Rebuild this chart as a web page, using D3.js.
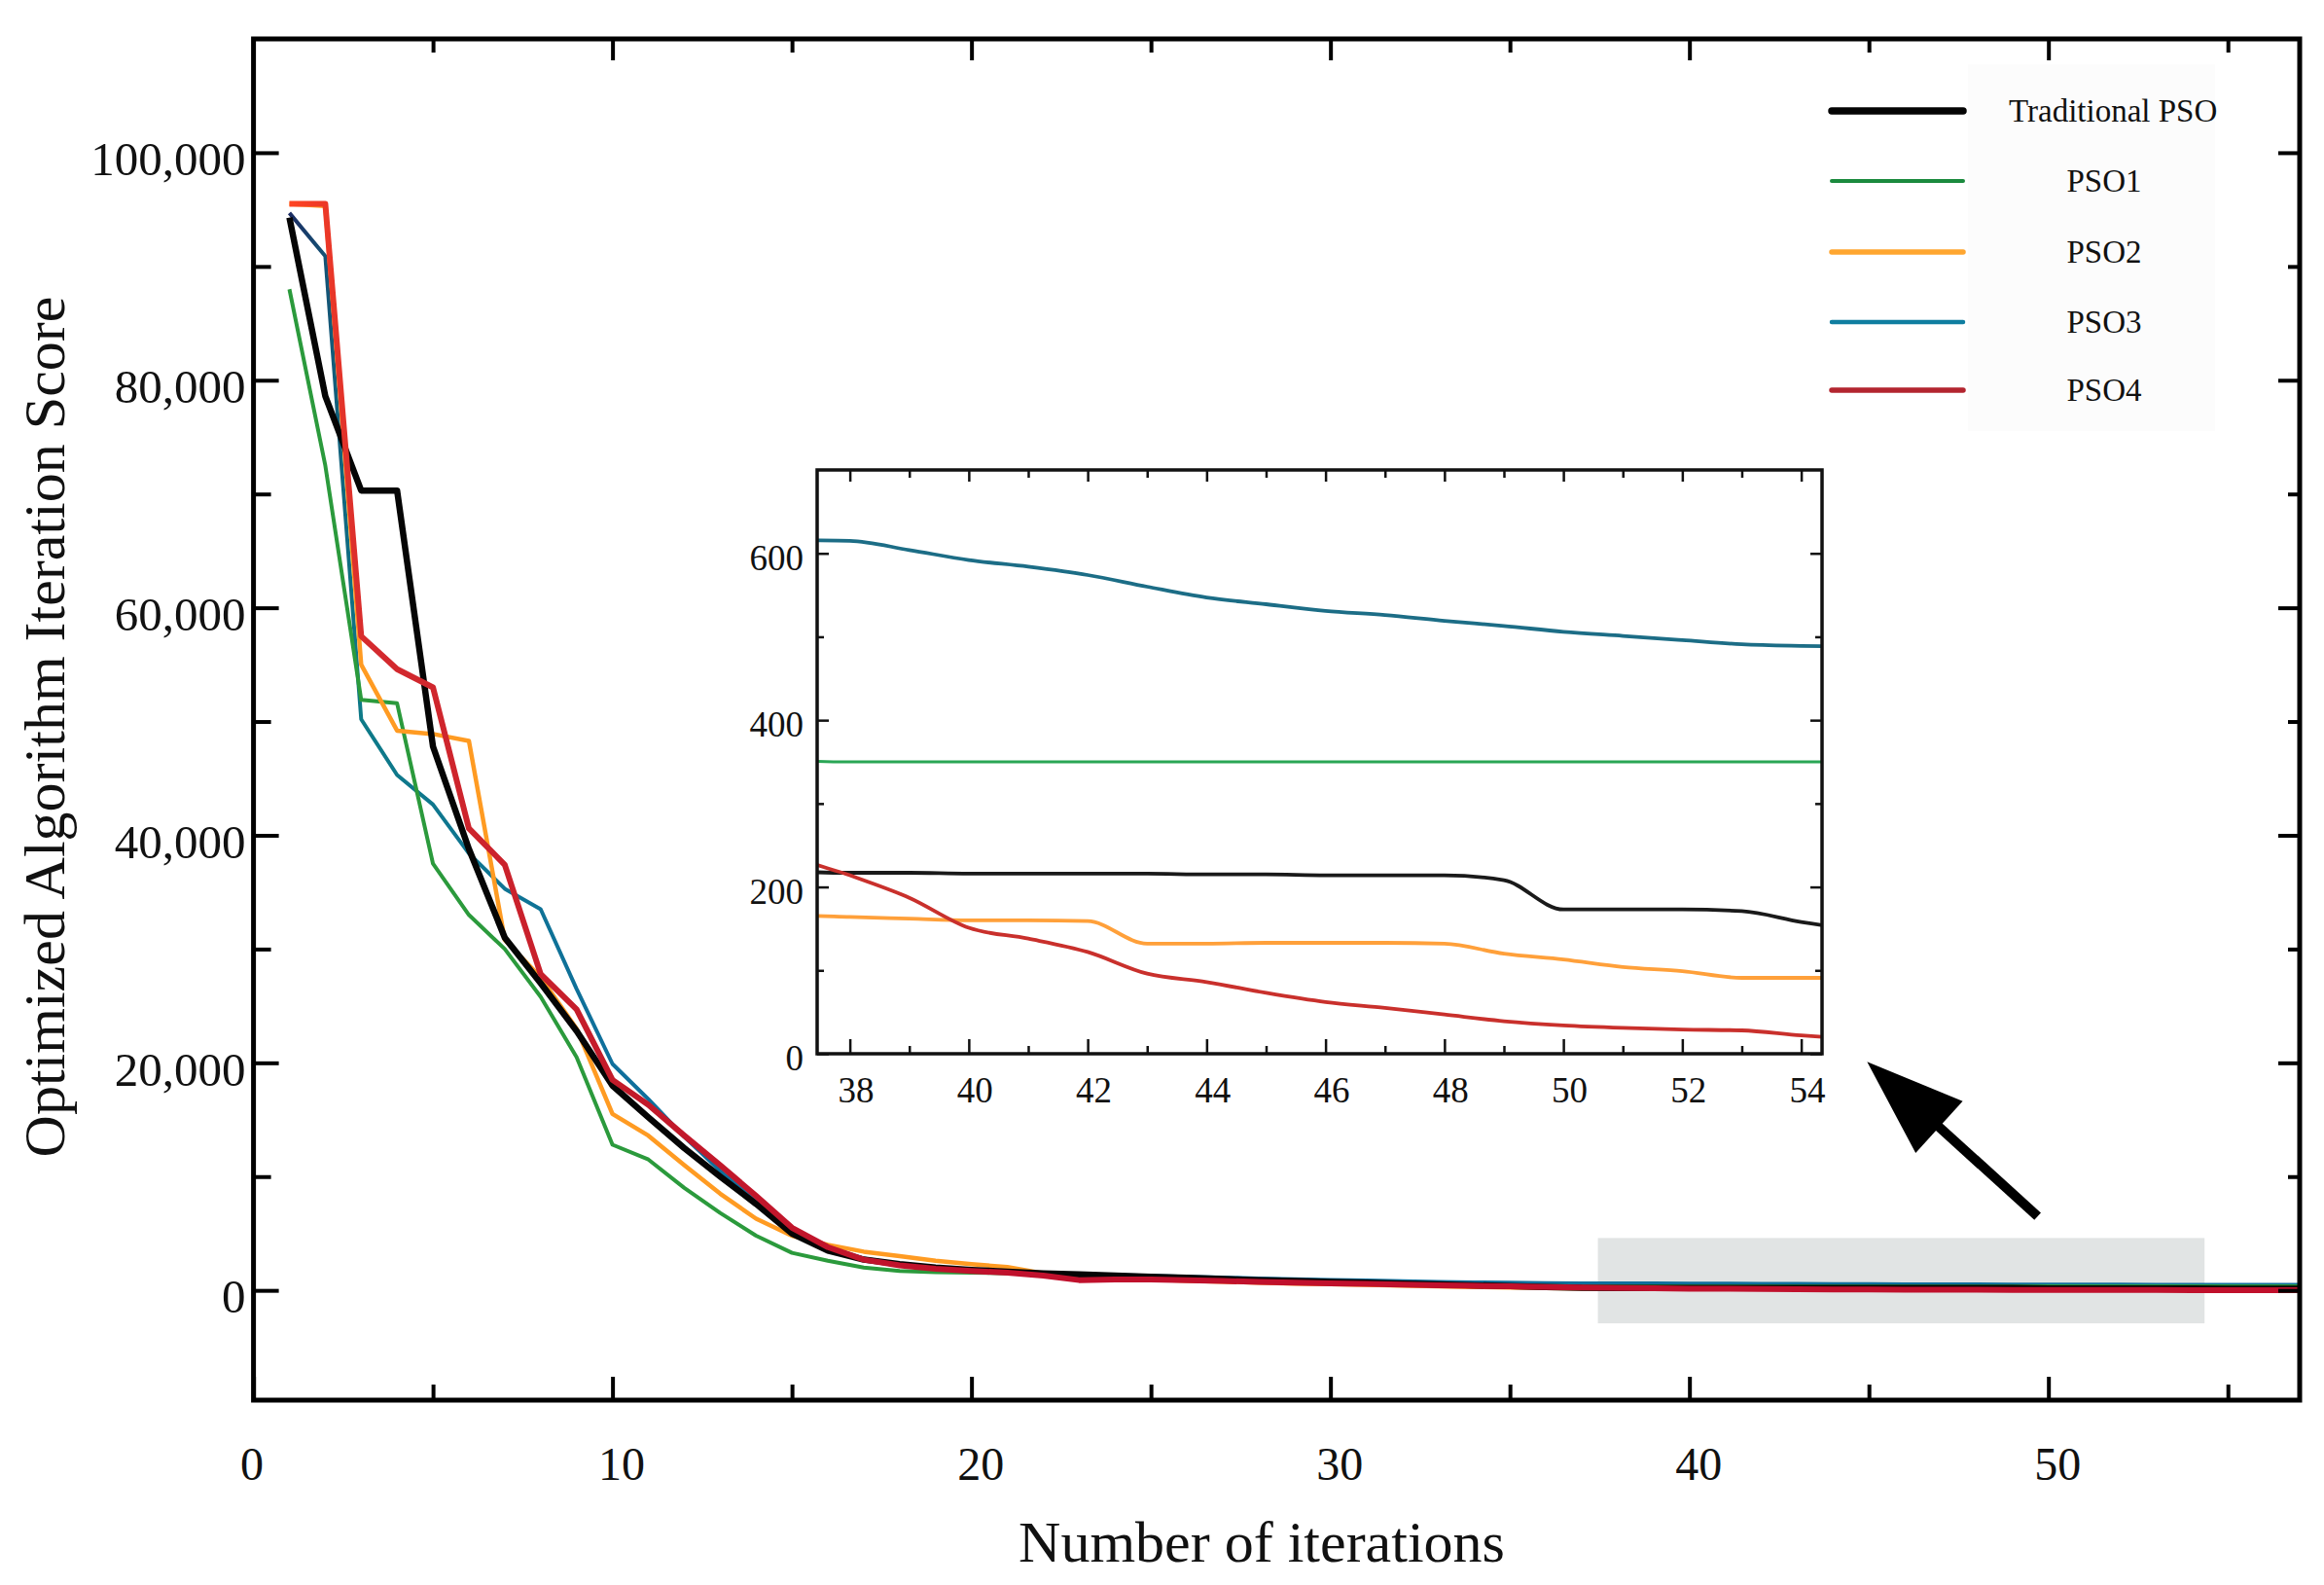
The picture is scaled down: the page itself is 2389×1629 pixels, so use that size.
<!DOCTYPE html>
<html><head><meta charset="utf-8">
<script src="https://cdn.jsdelivr.net/npm/d3@7"></script>
<style>
html,body{margin:0;padding:0;background:#fff;}
svg{display:block;}
text{font-family:"Liberation Serif","Times New Roman",Times,serif;fill:#111;}
</style></head><body>
<svg id="chart" width="2389" height="1629"></svg>
<script>
// ---------------- data ----------------
const iterations = [1,2,3,4,5,6,7,8,9,10,11,12,13,14,15,16,17,18,19,20,21,22,23,24,25,26,27,28,29,30,
  31,32,33,34,35,36,37,38,39,40,41,42,43,44,45,46,47,48,49,50,51,52,53,54,55,56,57];

const traditionalPSO = [94300,78600,70300,70300,47800,38800,31000,27000,22800,18000,15200,12500,10000,7600,5000,3500,2700,2300,2000,1800,
  1650,1500,1400,1300,1200,1100,1000,900,820,750,680,600,520,450,380,300,219,217,217,216,
  216,216,216,215,215,214,214,214,208,173,173,173,171,158,148,140,135];
const pso1 = [88000,72500,51900,51600,37500,33000,30000,25800,20500,12800,11500,9000,6800,4800,3300,2600,2000,1700,1600,1550,
  1500,1400,1300,1200,1100,1000,900,820,750,680,610,550,500,450,410,375,352,350,350,350,
  350,350,350,350,350,350,350,350,350,350,350,350,350,350,350,350,350];
const pso2 = [95500,95300,55000,49200,48900,48300,30800,27500,23000,15500,13600,11000,8500,6300,4800,4000,3400,3000,2600,2300,
  2050,1500,1200,1050,950,850,760,680,600,540,480,420,360,300,250,200,167,164,162,160,
  160,159,132,132,133,133,133,132,120,113,104,99,91,91,91,90,90];
const pso3 = [94700,90900,50200,45300,42700,38400,35300,33500,26500,19900,16800,13500,10500,7800,5500,3800,2800,2300,2000,1800,
  1650,1500,1420,1350,1280,1200,1120,1050,980,920,860,800,750,700,670,640,616,615,604,592,
  584,574,560,547,539,531,526,519,513,506,501,496,491,489,488,487,486];
const pso4 = [95500,95500,57500,54600,53000,40600,37400,27800,24700,18500,16300,13600,11000,8300,5500,3800,2700,2200,1900,1700,
  1550,1300,900,950,950,900,820,750,680,620,560,500,450,400,350,300,240,214,187,151,
  138,122,96,86,73,62,55,47,39,34,31,29,28,22,18,16,15];

const seriesNames = ["Traditional PSO", "PSO1", "PSO2", "PSO3", "PSO4"];
const xTickValues = [0, 10, 20, 30, 40, 50];
const xMinorTicks = [5, 15, 25, 35, 45, 55];
const yTickValues = [0, 20000, 40000, 60000, 80000, 100000];
const yMinorTicks = [10000, 30000, 50000, 70000, 90000];
const insetXTicks = [38, 40, 42, 44, 46, 48, 50, 52, 54];
const insetXMinor = [39, 41, 43, 45, 47, 49, 51, 53];
const insetYTicks = [0, 200, 400, 600];
const insetYMinor = [100, 300, 500];
const zoomIterations = [37.45, 54.35];   // iterations shown in the inset
const zoomBand = [-2900, 4600];           // score band highlighted on the main plot
const arrowTail = [49.7, 6500];
const arrowHead = [44.95, 20100];

// ---------------- styles ----------------
const mainColors = {"Traditional PSO":"#050505","PSO1":"#2b9a3c","PSO2":"#ff9b22","PSO3":"url(#gTeal)","PSO4":"url(#gRed)"};
const mainWidths = {"Traditional PSO":6.5,"PSO1":4,"PSO2":4.5,"PSO3":4,"PSO4":6};
const legendColors = {"Traditional PSO":"#050505","PSO1":"#1b8a3e","PSO2":"#ffa630","PSO3":"#0f7ea0","PSO4":"#b3252f"};
const legendWidths = {"Traditional PSO":7.5,"PSO1":4,"PSO2":5.5,"PSO3":4.5,"PSO4":5.5};
const insetColors = {"Traditional PSO":"#1a1a1a","PSO1":"#2aa655","PSO2":"#ffa03a","PSO3":"#1c6d86","PSO4":"#c9302c"};

const dataBySeries = {"Traditional PSO":traditionalPSO,"PSO1":pso1,"PSO2":pso2,"PSO3":pso3,"PSO4":pso4};
const drawOrder = ["PSO3","PSO1","PSO2","Traditional PSO","PSO4"];

const svg = d3.select("#chart");
const FONT = '"Liberation Serif","Times New Roman",Times,serif';

// ---------------- scales ----------------
const L = 260.6, R = 2364, T = 40, B = 1439;
const x = d3.scaleLinear().domain([0, 57]).range([L, R]);
const y = d3.scaleLinear().domain([-9650, 110000]).range([B, T]);

const defs = svg.append("defs");
defs.append("clipPath").attr("id","mainClip").append("rect")
  .attr("x", L).attr("y", T).attr("width", R - L).attr("height", B - T);

const gRed = defs.append("linearGradient").attr("id","gRed").attr("gradientUnits","userSpaceOnUse")
  .attr("x1", x(1)).attr("x2", x(20)).attr("y1", 0).attr("y2", 0);
gRed.append("stop").attr("offset","0").attr("stop-color","#ff4422");
gRed.append("stop").attr("offset","0.12").attr("stop-color","#d42a2e");
gRed.append("stop").attr("offset","0.5").attr("stop-color","#c21a2a");
gRed.append("stop").attr("offset","1").attr("stop-color","#c0102c");
const gTeal = defs.append("linearGradient").attr("id","gTeal").attr("gradientUnits","userSpaceOnUse")
  .attr("x1", x(1)).attr("x2", x(10)).attr("y1", 0).attr("y2", 0);
gTeal.append("stop").attr("offset","0").attr("stop-color","#1b2b62");
gTeal.append("stop").attr("offset","0.22").attr("stop-color","#0e7a88");
gTeal.append("stop").attr("offset","1").attr("stop-color","#0f6f9c");

svg.append("rect").attr("width",2389).attr("height",1629).attr("fill","#fff");

// highlight band behind lines
svg.append("rect")
  .attr("x", x(zoomIterations[0])).attr("y", y(zoomBand[1]))
  .attr("width", x(zoomIterations[1]) - x(zoomIterations[0]))
  .attr("height", y(zoomBand[0]) - y(zoomBand[1]))
  .attr("fill", "#e1e4e4");

// ---------------- main lines ----------------
const line = d3.line().x((d) => x(d[0])).y((d) => y(d[1])).curve(d3.curveLinear);
const gLines = svg.append("g").attr("clip-path","url(#mainClip)");
drawOrder.forEach((name) => {
  const pts = iterations.map((it, i) => [it, dataBySeries[name][i]]);
  gLines.append("path").datum(pts)
    .attr("d", line).attr("fill","none")
    .attr("stroke", mainColors[name]).attr("stroke-width", mainWidths[name])
    .attr("stroke-linejoin","round").attr("stroke-linecap","butt");
});

// ---------------- axes ----------------
function styleAxis(g, size) {
  g.select(".domain").remove();
  g.selectAll("line").attr("stroke","#000").attr("stroke-width",4);
  g.attr("font-family", FONT).attr("font-size", size);
  g.selectAll("text").attr("fill","#111");
}
// left
const gl = svg.append("g").attr("transform",`translate(${L},0)`)
  .call(d3.axisLeft(y).tickValues(yTickValues).tickSize(-26).tickPadding(8).tickFormat(d3.format(",")));
styleAxis(gl, 49);
gl.selectAll("text").attr("y", 7);
const glm = svg.append("g").attr("transform",`translate(${L},0)`)
  .call(d3.axisLeft(y).tickValues(yMinorTicks).tickSize(-18).tickFormat(""));
styleAxis(glm, 10);
// right
const gr = svg.append("g").attr("transform",`translate(${R},0)`)
  .call(d3.axisRight(y).tickValues(yTickValues).tickSize(-22).tickFormat(""));
styleAxis(gr, 10);
const grm = svg.append("g").attr("transform",`translate(${R},0)`)
  .call(d3.axisRight(y).tickValues(yMinorTicks).tickSize(-12).tickFormat(""));
styleAxis(grm, 10);
// bottom
const gb = svg.append("g").attr("transform",`translate(0,${B})`)
  .call(d3.axisBottom(x).tickValues(xTickValues).tickSize(-24).tickFormat(d3.format("d")));
styleAxis(gb, 48);
gb.selectAll("text").attr("y", 82).attr("dy", null).attr("dx", (d) => d === 0 ? -2 : 9);
const gbm = svg.append("g").attr("transform",`translate(0,${B})`)
  .call(d3.axisBottom(x).tickValues(xMinorTicks).tickSize(-16).tickFormat(""));
styleAxis(gbm, 10);
// top
const gt = svg.append("g").attr("transform",`translate(0,${T})`)
  .call(d3.axisTop(x).tickValues(xTickValues.filter(v => v > 0)).tickSize(-22).tickFormat(""));
styleAxis(gt, 10);
const gtm = svg.append("g").attr("transform",`translate(0,${T})`)
  .call(d3.axisTop(x).tickValues(xMinorTicks).tickSize(-14).tickFormat(""));
styleAxis(gtm, 10);

// frame
svg.append("rect").attr("x", L).attr("y", T).attr("width", R - L).attr("height", B - T)
  .attr("fill","none").attr("stroke","#000").attr("stroke-width",5);

// titles
svg.append("text").attr("transform","translate(46,747) rotate(-90)")
  .attr("text-anchor","middle").attr("dominant-baseline","central")
  .attr("font-size",60).text("Optimized Algorithm Iteration Score");
svg.append("text").attr("x",1297).attr("y",1585)
  .attr("text-anchor","middle").attr("dominant-baseline","central")
  .attr("font-size",60).text("Number of iterations");

// ---------------- legend ----------------
const legendRows = [114, 186, 259, 331, 401];
svg.append("rect").attr("x",2023).attr("y",66).attr("width",254).attr("height",377).attr("fill","#fcfcfc");
const lg = svg.append("g");
seriesNames.forEach((name, i) => {
  lg.append("line").attr("x1",1883).attr("x2",2018).attr("y1",legendRows[i]).attr("y2",legendRows[i])
    .attr("stroke",legendColors[name]).attr("stroke-width",legendWidths[name]).attr("stroke-linecap","round");
  const t = lg.append("text").attr("y", legendRows[i]).attr("dy","0.33em")
    .attr("font-size",33).text(name);
  if (i === 0) t.attr("x", 2065).attr("text-anchor","start");
  else t.attr("x", 2163).attr("text-anchor","middle");
});

// ---------------- arrow ----------------
(function(){
  const tx = x(arrowTail[0]), ty = y(arrowTail[1]);
  const hx = x(arrowHead[0]), hy = y(arrowHead[1]);
  const dx = hx - tx, dy = hy - ty, len = Math.hypot(dx, dy);
  const ux = dx/len, uy = dy/len, px = -uy, py = ux;
  const headLen = 100, headW = 36;
  const bx = hx - ux*headLen, by = hy - uy*headLen;
  svg.append("line").attr("x1",tx).attr("y1",ty).attr("x2",bx + ux*10).attr("y2",by + uy*10)
    .attr("stroke","#000").attr("stroke-width",10);
  svg.append("path")
    .attr("d",`M${hx},${hy}L${bx+px*headW},${by+py*headW}L${bx-px*headW},${by-py*headW}Z`)
    .attr("fill","#000");
})();

// ---------------- inset ----------------
const IL = 840, IR = 1873, IT = 483, IB = 1083;
const xi = d3.scaleLinear().domain(zoomIterations).range([IL, IR]);
const yi = d3.scaleLinear().domain([0, 700]).range([IB, IT]);
defs.append("clipPath").attr("id","insetClip").append("rect")
  .attr("x", IL).attr("y", IT).attr("width", IR - IL).attr("height", IB - IT);
svg.append("rect").attr("x", IL).attr("y", IT).attr("width", IR - IL).attr("height", IB - IT).attr("fill","#fff");

const lineI = d3.line().x((d) => xi(d[0])).y((d) => yi(d[1])).curve(d3.curveMonotoneX);
const gI = svg.append("g").attr("clip-path","url(#insetClip)");
["PSO3","PSO1","PSO2","Traditional PSO","PSO4"].forEach((name) => {
  const pts = iterations.map((it, i) => [it, dataBySeries[name][i]]).filter(d => d[0] >= 36 && d[0] <= 56);
  gI.append("path").datum(pts).attr("d", lineI).attr("fill","none")
    .attr("stroke", insetColors[name]).attr("stroke-width", name === "PSO1" ? 3 : 3.8)
    .attr("stroke-linejoin","round");
});

function styleInset(g, size) {
  g.select(".domain").remove();
  g.selectAll("line").attr("stroke","#111").attr("stroke-width",2.5);
  g.attr("font-family", FONT).attr("font-size", size);
  g.selectAll("text").attr("fill","#111");
}
const ib = svg.append("g").attr("transform",`translate(0,${IB})`)
  .call(d3.axisBottom(xi).tickValues(insetXTicks).tickSize(-15).tickFormat(d3.format("d")));
styleInset(ib, 37);
ib.selectAll("text").attr("y", 50).attr("dy", null).attr("dx", 6);
const ibm = svg.append("g").attr("transform",`translate(0,${IB})`)
  .call(d3.axisBottom(xi).tickValues(insetXMinor).tickSize(-8).tickFormat(""));
styleInset(ibm, 10);
const itp = svg.append("g").attr("transform",`translate(0,${IT})`)
  .call(d3.axisTop(xi).tickValues(insetXTicks).tickSize(-12).tickFormat(""));
styleInset(itp, 10);
const itpm = svg.append("g").attr("transform",`translate(0,${IT})`)
  .call(d3.axisTop(xi).tickValues(insetXMinor).tickSize(-8).tickFormat(""));
styleInset(itpm, 10);
const il = svg.append("g").attr("transform",`translate(${IL},0)`)
  .call(d3.axisLeft(yi).tickValues(insetYTicks).tickSize(-12).tickPadding(14).tickFormat(d3.format("d")));
styleInset(il, 37);
il.selectAll("text").attr("y", 5);
const ilm = svg.append("g").attr("transform",`translate(${IL},0)`)
  .call(d3.axisLeft(yi).tickValues(insetYMinor).tickSize(-7).tickFormat(""));
styleInset(ilm, 10);
const ir = svg.append("g").attr("transform",`translate(${IR},0)`)
  .call(d3.axisRight(yi).tickValues(insetYTicks).tickSize(-12).tickFormat(""));
styleInset(ir, 10);
const irm = svg.append("g").attr("transform",`translate(${IR},0)`)
  .call(d3.axisRight(yi).tickValues(insetYMinor).tickSize(-7).tickFormat(""));
styleInset(irm, 10);
svg.append("rect").attr("x", IL).attr("y", IT).attr("width", IR - IL).attr("height", IB - IT)
  .attr("fill","none").attr("stroke","#111").attr("stroke-width",3.5);
</script>
</body></html>
